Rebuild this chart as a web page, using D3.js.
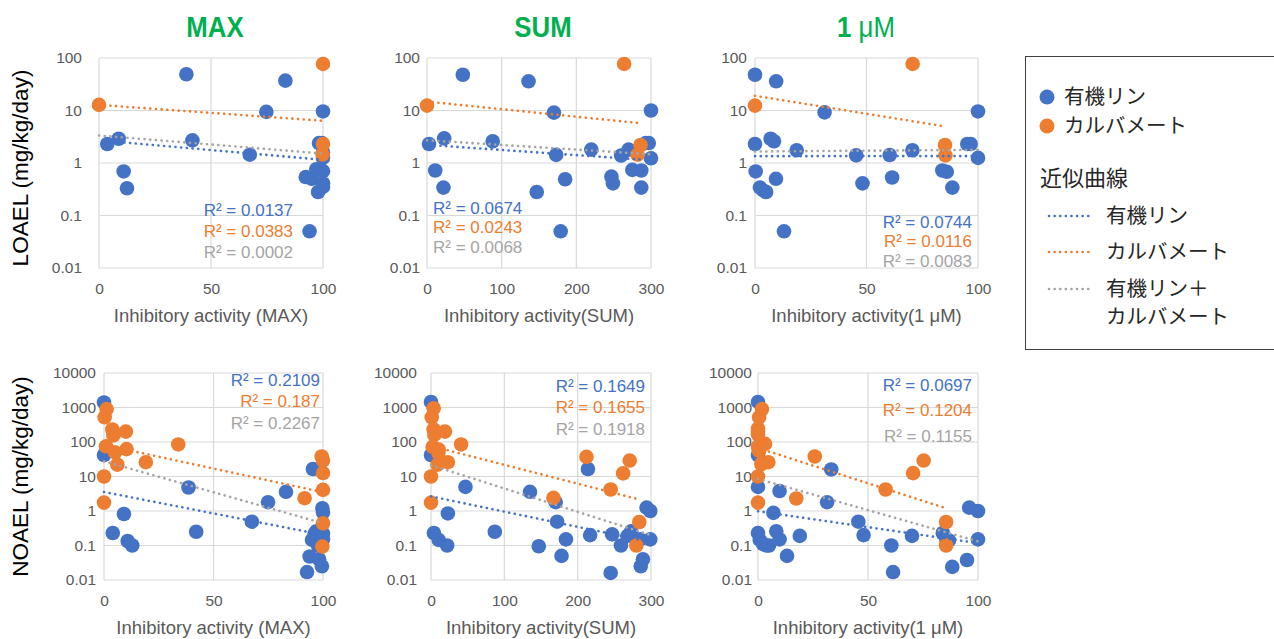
<!DOCTYPE html>
<html>
<head>
<meta charset="utf-8">
<script src="https://cdn.jsdelivr.net/npm/d3@7"></script>
<style>
  html, body { margin: 0; padding: 0; background: #fff; }
  svg { display: block; }
  text { font-family: "Liberation Sans", Arial, sans-serif; }
  .jp { font-family: "Noto Sans CJK JP", "Noto Sans", sans-serif; }
</style>
</head>
<body>
<svg id="chart" width="1274" height="639"></svg>
<script>
// ---- data: [inhibitory activity, dose in mg/kg/day] ----
const loaelMaxOP = [[3.7,2.3],[8.8,2.9],[11,0.69],[12.5,0.33],[39,49],[41.7,2.7],[67.3,1.44],[74.7,9.4],[83.2,37],[92.3,0.54],[95,0.5],[94,0.05],[97,0.76],[97.8,0.28],[98.2,2.4],[100,9.6],[100,0.7],[100,0.41],[100,0.35],[100,1.25],[100,1.6],[99.5,2.4]];
const loaelMaxCB = [[0,12.8],[100,77],[100,2.3],[99.8,1.45]];

const loaelSumOP = [[2.7,2.3],[11,0.72],[22,0.34],[23,2.95],[48,48],[88,2.6],[136,36],[147,0.28],[170,9.1],[173,1.43],[179,0.05],[185,0.49],[220,1.8],[247,0.55],[249,0.41],[260,1.39],[270,1.8],[275,0.74],[287,0.72],[287,0.34],[293,2.4],[297,2.4],[300,10],[300,1.23]];
const loaelSumCB = [[0,12.4],[264,77],[286,2.2],[282,1.44]];

const loael1uMOP = [[0,48],[0,2.3],[0.3,0.69],[2.2,0.34],[3.7,0.3],[5,0.28],[7,2.9],[8.5,2.6],[9.5,36],[9.4,0.5],[13,0.05],[18.7,1.75],[31.2,9.2],[45.4,1.4],[48.2,0.41],[60.4,1.42],[61.5,0.53],[70.6,1.75],[84,0.72],[86,0.68],[88.5,0.34],[95.2,2.3],[96.7,2.3],[100,9.6],[100,1.25]];
const loael1uMCB = [[0,12.4],[70.7,77],[85.2,2.2],[85.4,1.4]];

const noaelMaxOP = [[0,1400],[0,42],[4,0.23],[9.1,0.82],[10.8,0.135],[12.9,0.1],[38.6,4.8],[42.1,0.25],[67.5,0.49],[74.9,1.8],[83.1,3.6],[92.7,0.017],[93.9,0.048],[95.4,16.5],[95,0.145],[96.2,0.22],[97,0.26],[97.7,0.1],[98.2,0.04],[98.8,0.16],[99.5,0.025],[99.7,1.2],[100,0.9],[100,0.22],[100,0.15]];
const noaelMaxCB = [[0,10],[0,1.75],[0.3,520],[1.2,900],[0.9,75],[3.8,230],[4.3,155],[5,50],[6.1,22],[10,200],[10.3,62],[19.1,26],[33.9,85],[91.6,2.35],[99.4,38],[100,29],[100,12.6],[100,4.1],[100,0.44],[99.7,0.093]];

const noaelSumOP = [[0,1450],[0,42],[4,0.23],[10.5,0.145],[22,0.1],[23,0.85],[47,5],[87,0.25],[135,3.6],[147,0.095],[170,1.8],[172,0.49],[178,0.05],[184,0.15],[214,16.5],[217,0.2],[245,0.016],[247,0.21],[259,0.1],[268,0.19],[273,0.26],[285,0.15],[286,0.025],[289,0.04],[294,1.25],[299,1.0],[299,0.15]];
const noaelSumCB = [[0,10],[0,1.75],[1,520],[3.6,950],[2.3,72],[3.6,230],[4.5,160],[10.5,60],[10,48],[9,22],[19,200],[23,26],[41,85],[167,2.4],[212,37],[245,4.2],[262,12.3],[271,29],[284,0.48],[280,0.1]];

const noael1uMOP = [[0,1450],[0,42],[0,5],[0,0.23],[0.8,0.145],[2.3,0.11],[3.8,0.1],[5,0.1],[7,0.88],[8.3,0.26],[9.8,3.8],[9.8,0.15],[13.2,0.05],[19,0.19],[31.4,1.8],[33.3,16],[45.6,0.49],[48,0.2],[60.6,0.1],[61.4,0.017],[70,0.19],[84,0.23],[85.6,0.15],[86.8,0.14],[88.3,0.024],[95,0.038],[96,1.25],[100,1.0],[100,0.15]];
const noael1uMCB = [[0,10],[0,1.75],[0,245],[0,165],[0.5,520],[1.8,900],[0,74],[0.5,55],[3.2,88],[1.5,23],[4.7,26],[25.8,38],[17.4,2.3],[58,4.2],[70.5,12.5],[75.3,29],[85.5,0.48],[85.5,0.1],[0,200],[0.3,60]];

// R² labels shown with each panel: organophosphate, carbamate, combined
const r2LoaelMax = ["0.0137", "0.0383", "0.0002"];
const r2LoaelSum = ["0.0674", "0.0243", "0.0068"];
const r2Loael1uM = ["0.0744", "0.0116", "0.0083"];
const r2NoaelMax = ["0.2109", "0.187", "0.2267"];
const r2NoaelSum = ["0.1649", "0.1655", "0.1918"];
const r2Noael1uM = ["0.0697", "0.1204", "0.1155"];

const xTicksPct = [0, 50, 100];
const xTicksSum = [0, 100, 200, 300];
const yTicksLoael = [0.01, 0.1, 1, 10, 100];
const yTicksNoael = [0.01, 0.1, 1, 10, 100, 1000, 10000];

const columnTitles = ["MAX", "SUM", "1 μM"];
const legendSeries = ["有機リン", "カルバメート"];
const legendTrendTitle = "近似曲線";
const legendTrends = [["有機リン"], ["カルバメート"], ["有機リン＋", "カルバメート"]];

// ---- styling ----
const C_OP = "#4472C4", C_CB = "#ED7D31", C_ALL = "#A5A5A5";
const GRID = "#D9D9D9", TICK = "#595959", GREEN = "#00B050";

const svg = d3.select("#chart");
svg.append("rect").attr("width", 1274).attr("height", 639).attr("fill", "#fff");

// exponential trendline (least squares on ln y), over the series' x range
function expFit(pts) {
  const mx = d3.mean(pts, d => d[0]);
  const my = d3.mean(pts, d => Math.log(d[1]));
  let sxy = 0, sxx = 0;
  pts.forEach(d => { sxy += (d[0] - mx) * (Math.log(d[1]) - my); sxx += (d[0] - mx) ** 2; });
  const b = sxx ? sxy / sxx : 0;
  const a = my - b * mx;
  const [x0, x1] = d3.extent(pts, d => d[0]);
  return [[x0, Math.exp(a + b * x0)], [x1, Math.exp(a + b * x1)]];
}

const panels = [
  { op: loaelMaxOP, cb: loaelMaxCB, r2: r2LoaelMax, xMax: 100, xt: xTicksPct, yt: yTicksLoael,
    box: [99, 58, 323, 268], tickGap: 17, xTitle: "Inhibitory activity (MAX)",
    r2Pos: { anchor: "end", x: 293, y: [216, 237, 258] } },
  { op: loaelSumOP, cb: loaelSumCB, r2: r2LoaelSum, xMax: 300, xt: xTicksSum, yt: yTicksLoael,
    box: [427, 58, 651, 268], tickGap: 7, xTitle: "Inhibitory activity(SUM)",
    r2Pos: { anchor: "start", x: 433, y: [214, 233, 253] } },
  { op: loael1uMOP, cb: loael1uMCB, r2: r2Loael1uM, xMax: 100, xt: xTicksPct, yt: yTicksLoael,
    box: [755, 58, 978, 268], tickGap: 8, xTitle: "Inhibitory activity(1 μM)",
    r2Pos: { anchor: "end", x: 972, y: [228, 247, 267] } },
  { op: noaelMaxOP, cb: noaelMaxCB, r2: r2NoaelMax, xMax: 100, xt: xTicksPct, yt: yTicksNoael,
    box: [104, 373, 323, 580], tickGap: 8, xTitle: "Inhibitory activity (MAX)",
    r2Pos: { anchor: "end", x: 320, y: [386, 407, 429] } },
  { op: noaelSumOP, cb: noaelSumCB, r2: r2NoaelSum, xMax: 300, xt: xTicksSum, yt: yTicksNoael,
    box: [431, 373, 651, 580], tickGap: 14, xTitle: "Inhibitory activity(SUM)",
    r2Pos: { anchor: "end", x: 645, y: [392, 413, 435] } },
  { op: noael1uMOP, cb: noael1uMCB, r2: r2Noael1uM, xMax: 100, xt: xTicksPct, yt: yTicksNoael,
    box: [758, 373, 978, 580], tickGap: 6, xTitle: "Inhibitory activity(1 μM)",
    r2Pos: { anchor: "end", x: 972, y: [391, 416, 442] } }
];

panels.forEach(p => {
  const [L, T, R, B] = p.box;
  const x = d3.scaleLinear().domain([0, p.xMax]).range([L, R]);
  const y = d3.scaleLog().domain([p.yt[0], p.yt[p.yt.length - 1]]).range([B, T]);
  const g = svg.append("g");

  // gridlines
  g.append("g").selectAll("line").data(p.yt).join("line")
    .attr("x1", L).attr("x2", R).attr("y1", d => y(d)).attr("y2", d => y(d))
    .attr("stroke", GRID).attr("stroke-width", 1.2);
  g.append("g").selectAll("line").data(p.xt).join("line")
    .attr("y1", T).attr("y2", B).attr("x1", d => x(d)).attr("x2", d => x(d))
    .attr("stroke", GRID).attr("stroke-width", 1.2);

  // axes (labels only; the lines come from the grid)
  const yAxis = d3.axisLeft(y).tickValues(p.yt).tickFormat(d => String(d)).tickSize(0).tickPadding(p.tickGap);
  const ya = g.append("g").attr("transform", `translate(${L},0)`).call(yAxis);
  ya.select(".domain").remove();
  ya.selectAll("text").attr("fill", TICK).attr("font-size", 15.5)
    .attr("font-family", "'Liberation Sans', Arial, sans-serif");

  const xAxis = d3.axisBottom(x).tickValues(p.xt).tickFormat(d3.format("d")).tickSize(0).tickPadding(15);
  const xa = g.append("g").attr("transform", `translate(0,${B})`).call(xAxis);
  xa.select(".domain").remove();
  xa.selectAll("text").attr("fill", TICK).attr("font-size", 15.5)
    .attr("font-family", "'Liberation Sans', Arial, sans-serif");

  g.append("text").attr("x", (L + R) / 2).attr("y", B + 54).attr("text-anchor", "middle")
    .attr("fill", TICK).attr("font-size", 18.5).text(p.xTitle);

  // markers
  const drawPts = (pts, color) => g.append("g").selectAll("circle").data(pts).join("circle")
    .attr("cx", d => x(d[0])).attr("cy", d => y(d[1])).attr("r", 7.3).attr("fill", color);
  drawPts(p.op, C_OP);
  drawPts(p.cb, C_CB);

  // trendlines
  const line = d3.line().x(d => x(d[0])).y(d => y(d[1]));
  [[p.op, C_OP], [p.cb, C_CB], [p.op.concat(p.cb), C_ALL]].forEach(([pts, color]) => {
    g.append("path").attr("d", line(expFit(pts))).attr("fill", "none")
      .attr("stroke", color).attr("stroke-width", 2.6).attr("stroke-linecap", "round")
      .attr("stroke-dasharray", "0.1 5.6");
  });

  // R² labels
  [C_OP, C_CB, C_ALL].forEach((color, i) => {
    g.append("text").attr("x", p.r2Pos.x).attr("y", p.r2Pos.y[i]).attr("text-anchor", p.r2Pos.anchor)
      .attr("fill", color).attr("font-size", 17).text(`R² = ${p.r2[i]}`);
  });
});

// row titles (vertical)
[["LOAEL (mg/kg/day)", 168], ["NOAEL (mg/kg/day)", 476.5]].forEach(([t, cy]) => {
  svg.append("text").attr("transform", `translate(28,${cy}) rotate(-90)`).attr("text-anchor", "middle")
    .attr("fill", "#000").attr("font-size", 22.5).text(t);
});

// column titles
const titleX = [215, 543, 866];
columnTitles.forEach((t, i) => {
  const tg = svg.append("g").attr("transform", `translate(${titleX[i]},37) scale(0.86,1)`);
  const tx = tg.append("text").attr("text-anchor", "middle").attr("fill", GREEN).attr("font-size", 30);
  if (t.startsWith("1 ")) {
    tx.append("tspan").attr("font-weight", "bold").text("1 ");
    tx.append("tspan").attr("font-weight", "normal").text(t.slice(2));
  } else {
    tx.attr("font-weight", "bold").text(t);
  }
});

// legend
const lg = svg.append("g");
lg.append("rect").attr("x", 1025.5).attr("y", 56.5).attr("width", 270).attr("height", 293)
  .attr("fill", "none").attr("stroke", "#404040").attr("stroke-width", 1);
[C_OP, C_CB].forEach((c, i) => {
  const cy = 97 + i * 29;
  lg.append("circle").attr("cx", 1047).attr("cy", cy).attr("r", 7.5).attr("fill", c);
  lg.append("text").attr("class", "jp").attr("x", 1064).attr("y", cy + 7).attr("font-size", 20.5)
    .attr("fill", "#262626").text(legendSeries[i]);
});
lg.append("text").attr("class", "jp").attr("x", 1040).attr("y", 186).attr("font-size", 22)
  .attr("fill", "#262626").text(legendTrendTitle);
[[C_OP, 216], [C_CB, 252], [C_ALL, 289]].forEach(([c, cy], i) => {
  lg.append("line").attr("x1", 1049).attr("x2", 1093).attr("y1", cy).attr("y2", cy)
    .attr("stroke", c).attr("stroke-width", 2.6).attr("stroke-linecap", "round")
    .attr("stroke-dasharray", "0.1 5.5");
  legendTrends[i].forEach((t, j) => {
    lg.append("text").attr("class", "jp").attr("x", 1106).attr("y", cy + 7 + j * 28)
      .attr("font-size", 20.5).attr("fill", "#262626").text(t);
  });
});
</script>
</body>
</html>
